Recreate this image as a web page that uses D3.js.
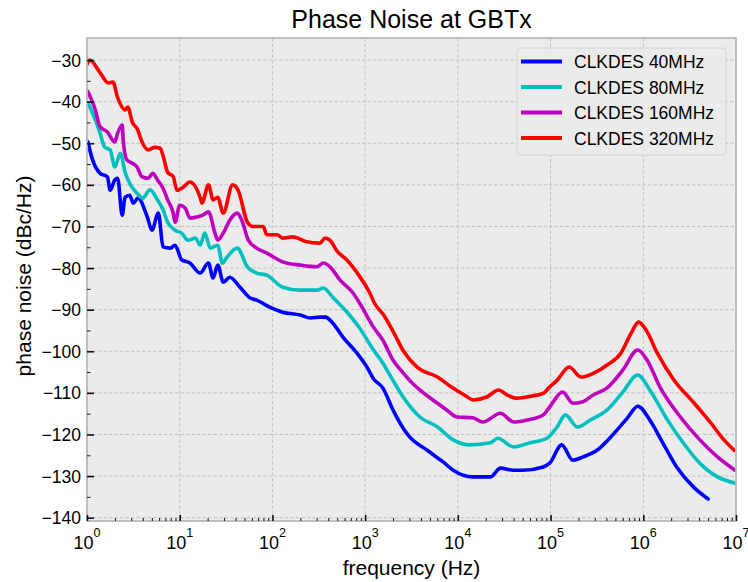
<!DOCTYPE html>
<html>
<head>
<meta charset="utf-8">
<script src="https://cdn.jsdelivr.net/npm/d3@7/dist/d3.min.js"></script>
<style>
  html, body { margin: 0; padding: 0; background: #ffffff; }
  svg { display: block; }
  text { font-family: "Liberation Sans", Arial, Helvetica, sans-serif; fill: #000; }
</style>
</head>
<body>
<svg id="chart" width="748" height="582"></svg>
<script>
// Phase noise traces: [log10(frequency / Hz), dBc/Hz]
const clk40 = [
  [0.01,-49.7],[0.06,-54],[0.14,-57.2],[0.22,-58.1],[0.25,-61.3],[0.30,-58.8],[0.33,-58.4],
  [0.38,-67.3],[0.41,-63],[0.46,-62.5],[0.50,-64.4],[0.55,-63.2],[0.65,-67.7],[0.70,-70.9],
  [0.77,-66.8],[0.82,-74.9],[0.90,-75.2],[0.95,-74.5],[1.02,-78],[1.11,-78.8],[1.22,-81.2],
  [1.31,-78.8],[1.36,-82.4],[1.41,-79.3],[1.47,-83.4],[1.54,-82.2],[1.65,-84.6],[1.76,-87.2],
  [1.83,-87.7],[1.97,-89.4],[2.11,-90.6],[2.30,-91.3],[2.41,-92],[2.51,-91.8],[2.57,-91.8],
  [2.65,-93.2],[2.76,-96.6],[2.91,-100.4],[3.02,-103.8],[3.09,-106.6],[3.19,-108.8],
  [3.30,-114.1],[3.41,-118.5],[3.48,-120.6],[3.67,-123.8],[3.84,-126.6],[3.95,-128.6],
  [4.16,-130.2],[4.35,-130.2],[4.46,-128.1],[4.60,-128.6],[4.70,-128.6],[4.92,-127.8],
  [4.99,-126.9],[5.12,-122.5],[5.24,-126.2],[5.35,-125.4],[5.50,-123.8],[5.67,-120.1],
  [5.83,-116],[5.94,-113.2],[6.07,-116.5],[6.21,-122],[6.36,-127.8],[6.54,-132.6],[6.70,-135.5]
];
const clk80 = [
  [0.01,-40.3],[0.09,-44.4],[0.14,-47.5],[0.19,-50.9],[0.25,-51.6],[0.30,-55.7],[0.36,-52.4],
  [0.41,-56.9],[0.46,-59.6],[0.54,-62],[0.60,-63.2],[0.68,-61.2],[0.76,-63.6],[0.82,-66],
  [0.87,-69],[0.95,-70.9],[1.02,-71.6],[1.09,-73.3],[1.17,-72.8],[1.22,-74.5],[1.27,-71.6],
  [1.33,-75.2],[1.41,-74.5],[1.46,-78.8],[1.51,-77.4],[1.62,-75.2],[1.73,-79.7],[1.83,-81.2],
  [1.94,-81.7],[2.11,-84.6],[2.30,-85.3],[2.48,-85.3],[2.55,-84.8],[2.65,-87],[2.80,-90.5],
  [2.94,-94.4],[3.09,-99.7],[3.19,-102.8],[3.30,-107],[3.41,-111],[3.59,-115.8],[3.78,-118.2],
  [3.95,-121.3],[4.13,-122.5],[4.35,-122],[4.43,-120.9],[4.60,-123],[4.78,-122],[4.96,-120.9],
  [5.07,-118.2],[5.16,-115.3],[5.29,-118.2],[5.43,-116.5],[5.61,-114.1],[5.78,-109.8],
  [5.94,-105.7],[6.07,-109.3],[6.26,-116.5],[6.43,-122],[6.61,-126.9],[6.80,-130.2],[6.99,-131.7]
];
const clk160 = [
  [0.01,-37.6],[0.09,-42],[0.14,-46],[0.22,-47.3],[0.30,-49.7],[0.33,-47.6],[0.38,-45.6],
  [0.39,-49.2],[0.43,-54],[0.49,-54.8],[0.54,-55.7],[0.59,-58],[0.66,-58.4],[0.71,-57.2],
  [0.76,-58.8],[0.82,-60.8],[0.87,-63.6],[0.93,-66.8],[0.95,-69],[1.00,-64.9],[1.06,-65.6],
  [1.11,-68],[1.19,-67.7],[1.25,-67.3],[1.31,-66.5],[1.38,-71.6],[1.41,-73.3],[1.47,-71.6],
  [1.54,-68.5],[1.62,-66.8],[1.67,-68.5],[1.74,-73.3],[1.83,-75.2],[1.94,-76.4],[2.11,-78.5],
  [2.30,-79.3],[2.48,-79.7],[2.55,-78.8],[2.62,-79.7],[2.73,-82.9],[2.87,-86],[2.94,-88.4],
  [3.09,-94.2],[3.19,-97.3],[3.30,-102.1],[3.41,-105.2],[3.48,-107],[3.59,-109.3],[3.78,-112.5],
  [3.88,-114.1],[3.99,-115.8],[4.16,-116],[4.27,-117],[4.46,-114.9],[4.60,-117],[4.75,-116.5],
  [4.92,-115.3],[4.99,-113.4],[5.13,-109.8],[5.24,-112.5],[5.34,-112.2],[5.46,-110.5],
  [5.61,-108.8],[5.78,-104.5],[5.94,-99.7],[6.04,-102.1],[6.18,-108.6],[6.40,-115.8],
  [6.61,-121.3],[6.80,-125.4],[6.99,-128.6]
];
const clk320 = [
  [0.00,-31],[0.03,-30],[0.14,-33],[0.23,-35.5],[0.28,-35.3],[0.33,-39],[0.41,-42],[0.44,-41.3],
  [0.49,-45],[0.54,-46.5],[0.60,-50],[0.66,-51.6],[0.73,-51],[0.79,-51.2],[0.82,-53],[0.87,-57],
  [0.93,-58],[0.97,-61.3],[1.04,-60.5],[1.11,-59.3],[1.22,-63],[1.24,-64.4],[1.31,-60],
  [1.36,-63.6],[1.41,-63],[1.47,-66.8],[1.57,-60],[1.63,-61.3],[1.73,-69],[1.79,-70],[1.90,-70],
  [1.94,-72],[2.05,-72],[2.11,-72.8],[2.22,-72.5],[2.37,-73.7],[2.51,-74],[2.57,-72.8],
  [2.62,-73.3],[2.70,-76],[2.80,-78],[2.94,-82],[3.05,-86],[3.10,-88.4],[3.20,-91.3],
  [3.31,-95.6],[3.42,-100.2],[3.56,-103.8],[3.78,-106.2],[3.93,-108.6],[4.07,-110.5],
  [4.17,-111.7],[4.31,-111],[4.44,-109.3],[4.53,-110.5],[4.64,-111.3],[4.79,-110.8],
  [4.93,-110],[4.98,-108.8],[5.07,-107],[5.20,-103.8],[5.33,-106.2],[5.47,-105.2],[5.61,-103.3],
  [5.76,-100.4],[5.87,-95.6],[5.95,-93],[6.03,-94.9],[6.15,-100.4],[6.33,-106.9],[6.55,-112.5],
  [6.73,-117.3],[6.87,-121.3],[6.98,-123.8]
];

const seriesNames  = ["CLKDES 40MHz", "CLKDES 80MHz", "CLKDES 160MHz", "CLKDES 320MHz"];
const seriesColors = ["#0000ff", "#00bfbf", "#bf00bf", "#ff0000"];
const seriesData   = [clk40, clk80, clk160, clk320];

const xDecades = [0, 1, 2, 3, 4, 5, 6, 7];
const yTicks = [-140, -130, -120, -110, -100, -90, -80, -70, -60, -50, -40, -30];

const plot = { left: 87, right: 736, top: 38, bottom: 521 };

const svg = d3.select("#chart");

const x = d3.scaleLog().domain([1, 1e7]).range([plot.left, plot.right]);
const y = d3.scaleLinear().domain([-140.8, -24.7]).range([plot.bottom, plot.top]);

// Plot background
svg.append("rect")
  .attr("x", plot.left).attr("y", plot.top)
  .attr("width", plot.right - plot.left).attr("height", plot.bottom - plot.top)
  .attr("fill", "#ebebeb");

// Grid lines
const grid = svg.append("g").attr("stroke", "#bdbdbd").attr("stroke-width", 0.9)
  .attr("stroke-dasharray", "3.5,2");
grid.selectAll("line.gx").data(xDecades.slice(1, -1)).enter().append("line")
  .attr("x1", d => x(Math.pow(10, d))).attr("x2", d => x(Math.pow(10, d)))
  .attr("y1", plot.top).attr("y2", plot.bottom);
grid.selectAll("line.gy").data(yTicks).enter().append("line")
  .attr("x1", plot.left).attr("x2", plot.right)
  .attr("y1", d => y(d)).attr("y2", d => y(d));

// Traces
svg.append("clipPath").attr("id", "plotclip").append("rect")
  .attr("x", plot.left).attr("y", plot.top)
  .attr("width", plot.right - plot.left).attr("height", plot.bottom - plot.top);

const line = d3.line()
  .x(d => x(Math.pow(10, d[0])))
  .y(d => y(d[1]))
  .curve(d3.curveMonotoneX);

svg.append("g").attr("clip-path", "url(#plotclip)")
  .selectAll("path").data(seriesData).enter().append("path")
  .attr("d", line)
  .attr("fill", "none")
  .attr("stroke", (d, i) => seriesColors[i])
  .attr("stroke-width", 3.6)
  .attr("stroke-linejoin", "round")
  .attr("stroke-linecap", "round");

// Frame
svg.append("rect")
  .attr("x", plot.left).attr("y", plot.top)
  .attr("width", plot.right - plot.left).attr("height", plot.bottom - plot.top)
  .attr("fill", "none").attr("stroke", "#b8b8b8").attr("stroke-width", 1.8);

// Axes with inward ticks
const xAxis = d3.axisBottom(x)
  .tickValues(xDecades.map(d => Math.pow(10, d)))
  .tickSize(-6).tickFormat("");
const gx = svg.append("g").attr("transform", `translate(0,${plot.bottom})`).call(xAxis);
gx.select(".domain").remove();
gx.selectAll(".tick line").attr("stroke", "#111").attr("stroke-width", 1.6);

const xMinor = [];
for (let dec = 0; dec < 7; dec++) for (let m = 2; m <= 9; m++) xMinor.push(m * Math.pow(10, dec));
const gxm = svg.append("g").attr("transform", `translate(0,${plot.bottom})`)
  .call(d3.axisBottom(x).tickValues(xMinor).tickSize(-3).tickFormat(""));
gxm.select(".domain").remove();
gxm.selectAll(".tick line").attr("stroke", "#111").attr("stroke-width", 1);

// Decade labels 10^n
const xl = svg.append("g");
xDecades.forEach(d => {
  const t = xl.append("text")
    .attr("x", x(Math.pow(10, d)))
    .attr("y", 549)
    .attr("text-anchor", "middle")
    .style("font-size", "18px");
  t.append("tspan").text("10");
  t.append("tspan").attr("dy", -12).style("font-size", "12.5px").text(String(d));
});

const yAxis = d3.axisLeft(y).tickValues(yTicks).tickSize(-7).tickFormat("");
const gy = svg.append("g").attr("transform", `translate(${plot.left},0)`).call(yAxis);
gy.select(".domain").remove();
gy.selectAll(".tick line").attr("stroke", "#111").attr("stroke-width", 1.6);

const yMinor = yTicks.slice(0, -1).map(v => v + 5);
const gym = svg.append("g").attr("transform", `translate(${plot.left},0)`)
  .call(d3.axisLeft(y).tickValues(yMinor).tickSize(-3.5).tickFormat(""));
gym.select(".domain").remove();
gym.selectAll(".tick line").attr("stroke", "#111").attr("stroke-width", 1);

svg.append("g").selectAll("text").data(yTicks).enter().append("text")
  .attr("x", 81).attr("y", d => y(d) + 6.5)
  .attr("text-anchor", "end")
  .style("font-size", "17.5px")
  .text(d => "\u2212" + Math.abs(d));

// Titles
svg.append("text")
  .attr("x", (plot.left + plot.right) / 2).attr("y", 28)
  .attr("text-anchor", "middle")
  .style("font-size", "25px")
  .text("Phase Noise at GBTx");

svg.append("text")
  .attr("x", (plot.left + plot.right) / 2).attr("y", 575)
  .attr("text-anchor", "middle")
  .style("font-size", "21px")
  .text("frequency (Hz)");

svg.append("text")
  .attr("transform", `translate(31,${276}) rotate(-90)`)
  .attr("text-anchor", "middle")
  .style("font-size", "21px")
  .text("phase noise (dBc/Hz)");

// Legend
const legend = svg.append("g");
legend.append("rect")
  .attr("x", 517).attr("y", 48).attr("width", 209).attr("height", 107)
  .attr("rx", 3).attr("ry", 3)
  .attr("fill", "#ebebeb").attr("fill-opacity", 0.85)
  .attr("stroke", "#d4d4d4").attr("stroke-width", 1);
seriesNames.forEach((name, i) => {
  const cy = 61.5 + i * 25.5;
  legend.append("line")
    .attr("x1", 521).attr("x2", 562).attr("y1", cy).attr("y2", cy)
    .attr("stroke", seriesColors[i]).attr("stroke-width", 4);
  legend.append("text")
    .attr("x", 574).attr("y", cy + 6.5)
    .style("font-size", "17.5px")
    .text(name);
});
</script>
</body>
</html>
